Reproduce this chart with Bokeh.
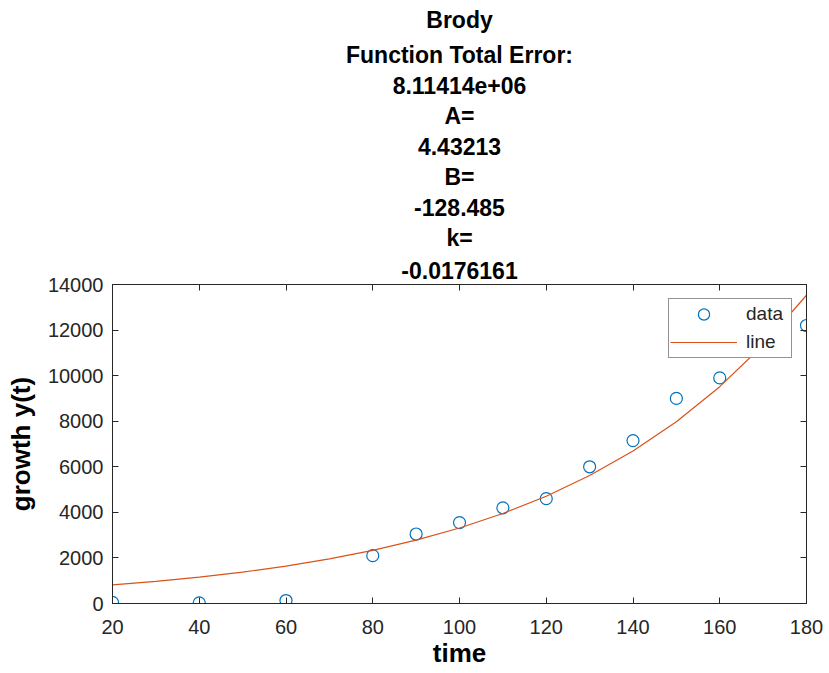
from bokeh.plotting import figure
from bokeh.models import Range1d, LinearAxis, FixedTicker, Title, Legend, LegendItem
from bokeh.embed import file_html
from bokeh.resources import INLINE

# data
data_t = [20, 40, 60, 80, 90, 100, 110, 120, 130, 140, 150, 160, 180]
data_y = [50, 30, 130, 2100, 3050, 3550, 4200, 4600, 6000, 7150, 9000, 9900, 12200]
line_t = [20, 30, 40, 50, 60, 70, 80, 90, 100, 110, 120, 130, 140, 150, 160, 170, 180]
line_y = [815, 970, 1155, 1377, 1641, 1956, 2331, 2779, 3313, 3949, 4709, 5614,
          6693, 7979, 9516, 11346, 13529]
x_ticks = [20, 40, 60, 80, 100, 120, 140, 160, 180]
y_ticks = [0, 2000, 4000, 6000, 8000, 10000, 12000, 14000]
title_lines = ["Brody", "Function Total Error:", "8.11414e+06", "A=", "4.43213",
               "B=", "-128.485", "k=", "-0.0176161"]

FONT = "Liberation Sans"
DARK = "#262626"

p = figure(width=829, height=673, output_backend="svg", toolbar_location=None,
           title=None, x_range=Range1d(20, 180), y_range=Range1d(0, 14000),
           min_border_left=112, min_border_right=23, min_border_bottom=70,
           min_border_top=284)
p.grid.visible = False
p.outline_line_color = DARK
p.outline_line_width = 1
p.background_fill_color = "white"
p.border_fill_color = "white"

for ax in (p.xaxis[0], p.yaxis[0]):
    ax.major_tick_in = 6
    ax.major_tick_out = 0
    ax.minor_tick_line_color = None
    ax.axis_line_color = DARK
    ax.major_tick_line_color = DARK
    ax.major_label_text_color = DARK
    ax.major_label_text_font = FONT
    ax.major_label_text_font_size = "20px"
    ax.axis_label_text_font = FONT
    ax.axis_label_text_font_style = "bold"
    ax.axis_label_text_font_size = "26px"
    ax.axis_label_text_color = "black"

p.xaxis[0].ticker = FixedTicker(ticks=x_ticks)
p.yaxis[0].ticker = FixedTicker(ticks=y_ticks)
p.xaxis[0].axis_label = "time"
p.yaxis[0].axis_label = "growth y(t)"
p.xaxis[0].major_label_standoff = 16
p.yaxis[0].major_label_standoff = 9
p.xaxis[0].axis_label_standoff = 1
p.yaxis[0].axis_label_standoff = 9

# mirrored ticks
rax = LinearAxis(ticker=FixedTicker(ticks=y_ticks), major_tick_in=6, major_tick_out=0,
                 minor_tick_line_color=None, axis_line_color=DARK,
                 major_tick_line_color=DARK, major_label_text_font_size="0px",
                 major_label_standoff=0)
p.add_layout(rax, "right")
tax = LinearAxis(ticker=FixedTicker(ticks=x_ticks), major_tick_in=6, major_tick_out=0,
                 minor_tick_line_color=None, axis_line_color=DARK,
                 major_tick_line_color=DARK, major_label_text_font_size="0px",
                 major_label_standoff=0)
p.add_layout(tax, "above")

for i, line in enumerate(reversed(title_lines)):
    p.add_layout(Title(text=line, align="center", text_font=FONT,
                       text_font_style="bold", text_font_size="23px",
                       text_color="black", standoff=11 if i == 0 else 6.5), "above")

r_data = p.scatter(data_t, data_y, marker="circle", size=12, fill_color=None,
                   line_color="#0072BD", line_width=1.2)
r_line = p.line(line_t, line_y, line_color="#D95319", line_width=1.2)

legend = Legend(items=[LegendItem(label="data", renderers=[r_data]),
                       LegendItem(label="line", renderers=[r_line])],
                location=(556, 245), orientation="vertical",
                glyph_width=67, glyph_height=28, label_height=20, label_width=44,
                spacing=-2, padding=1, margin=0, label_standoff=9,
                label_text_font=FONT, label_text_font_size="19px",
                label_text_color=DARK, border_line_color=DARK,
                border_line_width=1, background_fill_color="white",
                background_fill_alpha=1)
p.add_layout(legend, "center")

open("out.html", "w").write(file_html(p, INLINE))
